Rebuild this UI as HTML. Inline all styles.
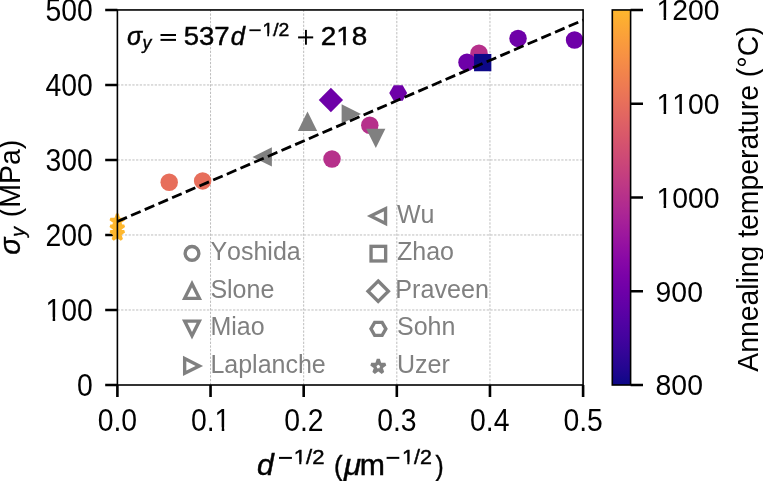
<!DOCTYPE html><html><head><meta charset="utf-8"><style>html,body{margin:0;padding:0;background:#fff;overflow:hidden}svg{display:block}text{font-family:"Liberation Sans",sans-serif;font-kerning:none}</style></head><body>
<svg width="763" height="481" viewBox="0 0 763 481">
<rect width="763" height="481" fill="#fff"/>
<defs><linearGradient id="cb" x1="0" y1="1" x2="0" y2="0">
<stop offset="0.0000" stop-color="#0d0887"/>
<stop offset="0.0417" stop-color="#220690"/>
<stop offset="0.0833" stop-color="#330597"/>
<stop offset="0.1250" stop-color="#43039e"/>
<stop offset="0.1667" stop-color="#5102a3"/>
<stop offset="0.2083" stop-color="#6001a6"/>
<stop offset="0.2500" stop-color="#6e00a8"/>
<stop offset="0.2917" stop-color="#7b02a8"/>
<stop offset="0.3333" stop-color="#8808a6"/>
<stop offset="0.3750" stop-color="#9511a1"/>
<stop offset="0.4167" stop-color="#a11b9b"/>
<stop offset="0.4583" stop-color="#ac2694"/>
<stop offset="0.5000" stop-color="#b6308b"/>
<stop offset="0.5417" stop-color="#c03a83"/>
<stop offset="0.5833" stop-color="#c9447a"/>
<stop offset="0.6250" stop-color="#d14e72"/>
<stop offset="0.6667" stop-color="#d9586a"/>
<stop offset="0.7083" stop-color="#e06363"/>
<stop offset="0.7500" stop-color="#e76e5b"/>
<stop offset="0.7917" stop-color="#ed7953"/>
<stop offset="0.8333" stop-color="#f2844b"/>
<stop offset="0.8750" stop-color="#f79044"/>
<stop offset="0.9167" stop-color="#fa9c3c"/>
<stop offset="0.9583" stop-color="#fca934"/>
<stop offset="1.0000" stop-color="#feb72d"/>
</linearGradient></defs>
<path d="M210.54 385.00V9.95M303.68 385.00V9.95M396.82 385.00V9.95M489.96 385.00V9.95M117.40 309.99H583.10M117.40 234.98H583.10M117.40 159.97H583.10M117.40 84.96H583.10" stroke="#bdbdbd" stroke-width="1.0" stroke-dasharray="2.3 1.43" fill="none"/>
<path d="M105.20 385.00H117.40M105.20 309.99H117.40M105.20 234.98H117.40M105.20 159.97H117.40M105.20 84.96H117.40M105.20 9.95H117.40M117.40 385.00V397.00M210.54 385.00V397.00M303.68 385.00V397.00M396.82 385.00V397.00M489.96 385.00V397.00M583.10 385.00V397.00" stroke="#000" stroke-width="2.6" fill="none"/>
<circle cx="192.00" cy="253.35" r="6.85" fill="none" stroke="#808080" stroke-width="3.35" stroke-linejoin="miter"/>
<polygon points="192.00,283.65 184.65,298.35 199.35,298.35" fill="none" stroke="#808080" stroke-width="3.35" stroke-linejoin="miter"/>
<polygon points="192.00,335.80 184.65,321.10 199.35,321.10" fill="none" stroke="#808080" stroke-width="3.35" stroke-linejoin="miter"/>
<polygon points="199.35,365.90 184.65,358.55 184.65,373.25" fill="none" stroke="#808080" stroke-width="3.35" stroke-linejoin="miter"/>
<polygon points="370.65,216.10 385.55,208.65 385.55,223.55" fill="none" stroke="#808080" stroke-width="3.35" stroke-linejoin="miter"/>
<rect x="371.05" y="246.35" width="14.6" height="14.6" fill="none" stroke="#808080" stroke-width="3.35" stroke-linejoin="miter"/>
<polygon points="378.20,281.00 388.40,291.20 378.20,301.40 368.00,291.20" fill="none" stroke="#808080" stroke-width="3.35" stroke-linejoin="miter"/>
<polygon points="385.85,328.85 382.12,335.30 374.67,335.30 370.95,328.85 374.67,322.40 382.12,322.40" fill="none" stroke="#808080" stroke-width="3.35" stroke-linejoin="miter"/>
<polygon points="378.30,359.20 376.64,364.31 371.26,364.31 375.61,367.47 373.95,372.59 378.30,369.43 382.65,372.59 380.99,367.47 385.34,364.31 379.96,364.31" fill="none" stroke="#808080" stroke-width="3.2" stroke-linejoin="bevel"/>
<polygon points="117.30,214.00 115.66,219.04 110.36,219.04 114.65,222.16 113.01,227.21 117.30,224.09 121.59,227.21 119.95,222.16 124.24,219.04 118.94,219.04" fill="#feb72d" stroke="#feb72d" stroke-width="2.8" stroke-linejoin="bevel"/>
<polygon points="117.30,220.90 115.66,225.94 110.36,225.94 114.65,229.06 113.01,234.11 117.30,230.99 121.59,234.11 119.95,229.06 124.24,225.94 118.94,225.94" fill="#feb72d" stroke="#feb72d" stroke-width="2.8" stroke-linejoin="bevel"/>
<polygon points="117.30,226.30 115.66,231.34 110.36,231.34 114.65,234.46 113.01,239.51 117.30,236.39 121.59,239.51 119.95,234.46 124.24,231.34 118.94,231.34" fill="#feb72d" stroke="#feb72d" stroke-width="2.8" stroke-linejoin="bevel"/>
<circle cx="169.2" cy="182.3" r="8.75" fill="#e76e5b"/>
<circle cx="202.65" cy="180.9" r="8.75" fill="#e76e5b"/>
<polygon points="252.50,156.90 271.90,147.20 271.90,166.60" fill="#808080"/>
<polygon points="307.50,111.55 297.80,130.95 317.20,130.95" fill="#808080"/>
<polygon points="330.90,87.85 343.05,100.00 330.90,112.15 318.75,100.00" fill="#6e00a8"/>
<circle cx="332.0" cy="159.0" r="8.75" fill="#b6308b"/>
<polygon points="361.00,114.00 341.60,104.30 341.60,123.70" fill="#808080"/>
<circle cx="369.8" cy="125.2" r="8.75" fill="#b6308b"/>
<polygon points="375.80,147.95 366.20,128.75 385.40,128.75" fill="#808080"/>
<polygon points="407.15,92.90 402.68,100.65 393.72,100.65 389.25,92.90 393.72,85.15 402.68,85.15" fill="#6e00a8"/>
<circle cx="479.0" cy="53.3" r="8.75" fill="#b6308b"/>
<circle cx="467.0" cy="62.3" r="8.75" fill="#6e00a8"/>
<rect x="474.05" y="53.95" width="17.3" height="17.3" fill="#0d0887"/>
<circle cx="518.05" cy="38.4" r="8.75" fill="#6e00a8"/>
<circle cx="574.55" cy="40.05" r="8.75" fill="#6e00a8"/>
<line x1="117.40" y1="221.48" x2="583.10" y2="20.08" stroke="#000" stroke-width="2.8" stroke-dasharray="10.4 4.5"/>
<rect x="117.40" y="9.95" width="465.70" height="375.05" fill="none" stroke="#000" stroke-width="1.6"/>
<rect x="612.30" y="9.95" width="18.30" height="375.05" fill="url(#cb)" stroke="#000" stroke-width="1.6"/>
<path d="M630.60 385.00H643.00M630.60 291.24H643.00M630.60 197.47H643.00M630.60 103.71H643.00M630.60 9.95H643.00" stroke="#000" stroke-width="2.6" fill="none"/>
<defs><clipPath id="fc1" clipPathUnits="userSpaceOnUse"><path clip-rule="evenodd" d="M-50 -56.00 H96.72 V28.00 H-50ZM-1.367 -3.281H7.041V1.600H-1.367ZM9.516 -3.281H14.766V1.600H9.516Z"/></clipPath><clipPath id="fc2" clipPathUnits="userSpaceOnUse"><path clip-rule="evenodd" d="M-50 -56.00 H88.92 V28.00 H-50ZM21.984 -3.281H30.393V1.600H21.984ZM32.867 -3.281H38.117V1.600H32.867Z"/></clipPath><clipPath id="fc3" clipPathUnits="userSpaceOnUse"><path clip-rule="evenodd" d="M-50 -56.00 H112.29 V28.00 H-50ZM-1.367 -3.281H7.041V1.600H-1.367ZM9.516 -3.281H14.766V1.600H9.516Z"/></clipPath><clipPath id="fc4" clipPathUnits="userSpaceOnUse"><path clip-rule="evenodd" d="M-50 -56.00 H112.29 V28.00 H-50ZM-1.367 -3.281H7.041V1.600H-1.367ZM9.516 -3.281H22.613V1.600H9.516ZM25.088 -3.281H30.338V1.600H25.088Z"/></clipPath><clipPath id="fc5" clipPathUnits="userSpaceOnUse"><path clip-rule="evenodd" d="M-50 -56.00 H112.29 V28.00 H-50ZM-1.367 -3.281H7.041V1.600H-1.367ZM9.516 -3.281H14.766V1.600H9.516Z"/></clipPath><clipPath id="fc6" clipPathUnits="userSpaceOnUse"><path clip-rule="evenodd" d="M-50 -40.00 H77.80 V20.00 H-50ZM-0.977 -2.344H5.029V1.600H-0.977ZM6.797 -2.344H10.547V1.600H6.797Z"/></clipPath><clipPath id="fc7" clipPathUnits="userSpaceOnUse"><path clip-rule="evenodd" d="M-50 -40.00 H77.80 V20.00 H-50ZM-0.977 -2.344H5.029V1.600H-0.977ZM6.797 -2.344H10.547V1.600H6.797Z"/></clipPath><clipPath id="fc8" clipPathUnits="userSpaceOnUse"><path clip-rule="evenodd" d="M-50 -36.00 H75.02 V18.00 H-50ZM-0.879 -2.109H4.526V1.600H-0.879ZM6.117 -2.109H9.492V1.600H6.117Z"/></clipPath><clipPath id="fc9" clipPathUnits="userSpaceOnUse"><path clip-rule="evenodd" d="M-50 -50.00 H91.71 V25.00 H-50ZM12.683 -2.930H20.190V1.600H12.683ZM22.400 -2.930H27.087V1.600H22.400Z"/></clipPath></defs>
<g opacity="0.999">
<text x="210.40" y="260.45" font-size="25" fill="#808080">Yoshida</text>
<text x="210.40" y="297.90" font-size="25" fill="#808080">Slone</text>
<text x="210.40" y="335.35" font-size="25" fill="#808080">Miao</text>
<text x="210.40" y="372.80" font-size="25" fill="#808080">Laplanche</text>
<text x="397.00" y="223.00" font-size="25" fill="#808080">Wu</text>
<text x="397.00" y="260.45" font-size="25" fill="#808080">Zhao</text>
<text x="397.00" y="335.35" font-size="25" fill="#808080">Sohn</text>
<text x="397.00" y="372.80" font-size="25" fill="#808080">Uzer</text>
<text transform="translate(395.326,297.900) scale(1.0055,1.0000)" font-size="25.00" fill="#808080">Praveen</text>
<text transform="translate(77.022,395.830) scale(1.0130,1.1150)" font-size="28.00" fill="#000">0</text>
<text transform="translate(45.538,320.820) scale(1.0130,1.1150)" font-size="28.00" fill="#000" clip-path="url(#fc1)">100</text>
<text transform="translate(45.538,245.810) scale(1.0130,1.1150)" font-size="28.00" fill="#000">200</text>
<text transform="translate(45.538,170.800) scale(1.0130,1.1150)" font-size="28.00" fill="#000">300</text>
<text transform="translate(45.538,95.790) scale(1.0130,1.1150)" font-size="28.00" fill="#000">400</text>
<text transform="translate(45.538,20.780) scale(1.0130,1.1150)" font-size="28.00" fill="#000">500</text>
<text transform="translate(97.687,430.950) scale(1.0130,1.1150)" font-size="28.00" fill="#000">0.0</text>
<text transform="translate(190.969,430.950) scale(1.0130,1.1150)" font-size="28.00" fill="#000" clip-path="url(#fc2)">0.1</text>
<text transform="translate(284.144,430.950) scale(1.0130,1.1150)" font-size="28.00" fill="#000">0.2</text>
<text transform="translate(377.178,430.950) scale(1.0130,1.1150)" font-size="28.00" fill="#000">0.3</text>
<text transform="translate(470.105,430.950) scale(1.0130,1.1150)" font-size="28.00" fill="#000">0.4</text>
<text transform="translate(563.422,430.950) scale(1.0130,1.1150)" font-size="28.00" fill="#000">0.5</text>
<text transform="translate(655.600,395.450) scale(1.0130,1.0700)" font-size="28.00" fill="#000">800</text>
<text transform="translate(655.600,301.688) scale(1.0130,1.0700)" font-size="28.00" fill="#000">900</text>
<text transform="translate(656.500,207.925) scale(1.0130,1.0700)" font-size="28.00" fill="#000" clip-path="url(#fc3)">1000</text>
<text transform="translate(656.500,114.162) scale(1.0130,1.0700)" font-size="28.00" fill="#000" clip-path="url(#fc4)">1100</text>
<text transform="translate(656.500,20.400) scale(1.0130,1.0700)" font-size="28.00" fill="#000" clip-path="url(#fc5)">1200</text>
<text transform="rotate(-90) translate(-371.771,757.525) scale(1.0128,1.0800)" font-size="28.00" fill="#000">Annealing temperature (°C)</text>
<text transform="rotate(-90) translate(-254.850,20.338) scale(1.0166,1.0266)" font-size="28.00" fill="#000" font-style="italic" stroke="#000" stroke-width="0.35">σ</text>
<text transform="rotate(-90) translate(-236.657,24.676) scale(0.9711,1.0238)" font-size="20.00" fill="#000" font-style="italic" stroke="#000" stroke-width="0.35">y</text>
<text transform="rotate(-90) translate(-217.280,20.470) scale(1.0171,1.0379)" font-size="28.00" fill="#000">(MPa)</text>
<text transform="translate(257.041,474.680) scale(1.0812,1.0520)" font-size="28.00" fill="#000" font-style="italic" stroke="#000" stroke-width="0.45">d</text>
<rect x="279.0" y="456.9" width="12.9" height="2.0"/>
<text transform="translate(293.771,464.173) scale(1.1030,1.0102)" font-size="20.00" fill="#000" stroke="#000" stroke-width="0.45" clip-path="url(#fc6)">1/2</text>
<text transform="translate(333.918,474.667) scale(0.9184,1.0169)" font-size="28.00" fill="#000" stroke="#000" stroke-width="0.45">(</text>
<text transform="translate(343.949,474.633) scale(1.1151,1.0838)" font-size="28.00" fill="#000" font-style="italic" stroke="#000" stroke-width="0.45">μ</text>
<text transform="translate(359.686,474.575) scale(1.0791,1.0598)" font-size="28.00" fill="#000" stroke="#000" stroke-width="0.45">m</text>
<rect x="386.6" y="456.85" width="12.7" height="2.0"/>
<text transform="translate(402.018,463.976) scale(1.0713,0.9966)" font-size="20.00" fill="#000" stroke="#000" stroke-width="0.45" clip-path="url(#fc7)">1/2</text>
<text transform="translate(435.541,474.967) scale(0.8776,1.0169)" font-size="28.00" fill="#000" stroke="#000" stroke-width="0.45">)</text>
<text transform="translate(126.908,45.119) scale(1.0058,1.0233)" font-size="25.00" fill="#000" font-style="italic" stroke="#000" stroke-width="0.45">σ</text>
<text transform="translate(142.502,48.819) scale(0.9871,0.9788)" font-size="18.00" fill="#000" font-style="italic" stroke="#000" stroke-width="0.45">y</text>
<rect x="160.5" y="34.0" width="15.5" height="2.0"/><rect x="160.5" y="38.9" width="15.5" height="2.0"/>
<text transform="translate(183.724,44.723) scale(1.1010,1.0092)" font-size="25.00" fill="#000" stroke="#000" stroke-width="0.45">537</text>
<text transform="translate(230.795,44.720) scale(1.0218,1.0204)" font-size="25.00" fill="#000" font-style="italic" stroke="#000" stroke-width="0.45">d</text>
<rect x="249.4" y="29.35" width="11.3" height="1.8"/>
<text transform="translate(262.473,35.599) scale(1.0759,0.9788)" font-size="18.00" fill="#000" stroke="#000" stroke-width="0.45" clip-path="url(#fc8)">1/2</text>
<rect x="298.1" y="36.4" width="15.1" height="2.0"/><rect x="305.0" y="29.9" width="1.9" height="14.8"/>
<text transform="translate(320.831,44.721) scale(1.1154,1.0148)" font-size="25.00" fill="#000" stroke="#000" stroke-width="0.45" clip-path="url(#fc9)">218</text>
</g>
</svg></body></html>
